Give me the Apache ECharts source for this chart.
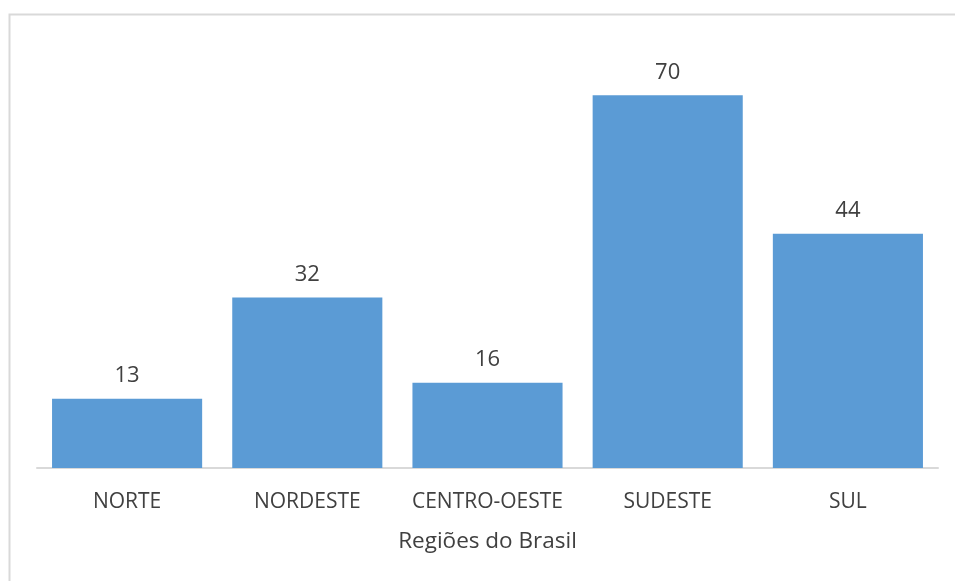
<!DOCTYPE html>
<html><head><meta charset="utf-8">
<script src="https://cdn.jsdelivr.net/npm/echarts@6/dist/echarts.min.js"></script>
<style>html,body{margin:0;padding:0;background:#fff}#c{width:955px;height:581px}</style>
</head><body><div id="c"></div>
<script>
const categories = ['NORTE', 'NORDESTE', 'CENTRO-OESTE', 'SUDESTE', 'SUL'];
const values = [13, 32, 16, 70, 44];
const axisTitle = 'Regiões do Brasil';

const chart = echarts.init(document.getElementById('c'), null, {renderer: 'canvas'});
const font = '"Open Sans", sans-serif';
chart.setOption({
  animation: false,
  backgroundColor: '#ffffff',
  graphic: [{
    type: 'rect', left: 7, top: 12, shape: {width: 1000, height: 620},
    style: {fill: 'none', stroke: '#d9d9d9', lineWidth: 2}, silent: true
  }],
  grid: {left: 37, right: 17, top: 42, bottom: 113},
  xAxis: {
    type: 'category', data: categories,
    axisLine: {lineStyle: {color: '#d9d9d9', width: 2}},
    axisTick: {show: false},
    axisLabel: {color: '#404040', fontSize: 21, fontFamily: font, margin: 24, interval: 0, hideOverlap: false},
    name: axisTitle, nameLocation: 'middle', nameGap: 62,
    nameTextStyle: {color: '#404040', fontSize: 22.5, fontFamily: font}
  },
  yAxis: {type: 'value', min: 0, max: 80, show: false, splitLine: {show: false}},
  series: [{
    type: 'bar', data: values, barCategoryGap: '16.7%',
    itemStyle: {color: '#5b9bd5'},
    label: {show: true, position: 'top', distance: 12, color: '#404040', fontSize: 22, fontFamily: font}
  }]
});
</script></body></html>
